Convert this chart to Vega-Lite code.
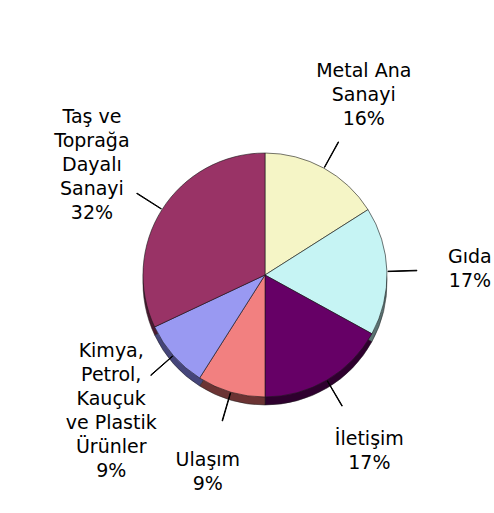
{
  "$schema": "https://vega.github.io/schema/vega-lite/v6.json",
  "width": 458,
  "height": 476,
  "autosize": {"type": "none"},
  "padding": {"left": 36, "top": 37, "right": 0, "bottom": 0},
  "background": "white",
  "view": {"stroke": null},
  "data": {
    "values": [
      {"kategori": "Metal Ana Sanayi", "etiket": "Metal Ana\nSanayi", "deger": 16},
      {"kategori": "Gıda", "etiket": "Gıda", "deger": 17},
      {"kategori": "İletişim", "etiket": "İletişim", "deger": 17},
      {"kategori": "Ulaşım", "etiket": "Ulaşım", "deger": 9},
      {"kategori": "Kimya, Petrol, Kauçuk ve Plastik Ürünler", "etiket": "Kimya,\nPetrol,\nKauçuk\nve Plastik\nÜrünler", "deger": 9},
      {"kategori": "Taş ve Toprağa Dayalı Sanayi", "etiket": "Taş ve\nToprağa\nDayalı\nSanayi", "deger": 32}
    ]
  },
  "transform": [
    {"window": [{"op": "row_number", "as": "sira"}]},
    {"stack": "deger", "groupby": [], "sort": [{"field": "sira", "order": "ascending"}], "as": ["v0", "v1"]},
    {"calculate": "(datum.v0 + datum.v1) / 2", "as": "orta"},
    {"calculate": "datum.etiket + '\\n' + datum.deger + '%'", "as": "yazi"},
    {"calculate": "length(split(datum.yazi, '\\n'))", "as": "satir"}
  ],
  "layer": [
    {
      "mark": {"type": "arc", "radius": 122, "yOffset": 8, "stroke": "#222222", "strokeWidth": 0.5},
      "encoding": {
        "theta": {"field": "v0", "type": "quantitative", "stack": null, "scale": {"domain": [0, 100], "range": [0, 6.283185307179586]}},
        "theta2": {"field": "v1"},
        "color": {
          "field": "kategori", "type": "nominal", "legend": null,
          "scale": {
            "domain": ["Metal Ana Sanayi", "Gıda", "İletişim", "Ulaşım", "Kimya, Petrol, Kauçuk ve Plastik Ürünler", "Taş ve Toprağa Dayalı Sanayi"],
            "range": ["#7A7A60", "#5A7272", "#2E002E", "#6B3333", "#45457A", "#4A1830"]
          }
        }
      }
    },
    {
      "mark": {"type": "arc", "radius": 122, "stroke": "#1a1a1a", "strokeWidth": 0.6},
      "encoding": {
        "theta": {"field": "v0", "type": "quantitative", "stack": null, "scale": {"domain": [0, 100], "range": [0, 6.283185307179586]}},
        "theta2": {"field": "v1"},
        "fill": {
          "field": "kategori", "type": "nominal", "legend": null,
          "scale": {
            "domain": ["Metal Ana Sanayi", "Gıda", "İletişim", "Ulaşım", "Kimya, Petrol, Kauçuk ve Plastik Ürünler", "Taş ve Toprağa Dayalı Sanayi"],
            "range": ["#F5F5C6", "#C6F4F4", "#660066", "#F28080", "#9999F2", "#993366"]
          }
        }
      }
    },
    {
      "mark": {"type": "arc", "radius": 152, "radius2": 123, "theta2Offset": 0.004, "fill": "black", "stroke": "black", "strokeWidth": 1},
      "encoding": {
        "theta": {"field": "orta", "type": "quantitative", "stack": null, "scale": {"domain": [0, 100], "range": [0, 6.283185307179586]}},
        "theta2": {"field": "orta"}
      }
    },
    {
      "mark": {"type": "text", "radius": 205, "font": "DejaVu Sans", "fontSize": 19, "lineBreak": "\n", "lineHeight": 24, "align": "center", "baseline": "middle", "color": "black", "dy": {"expr": "-(datum.satir - 1) * 12"}},
      "encoding": {
        "theta": {"field": "orta", "type": "quantitative", "stack": null, "scale": {"domain": [0, 100], "range": [0, 6.283185307179586]}},
        "text": {"field": "yazi"}
      }
    }
  ],
  "resolve": {"scale": {"color": "independent", "fill": "independent"}}
}
